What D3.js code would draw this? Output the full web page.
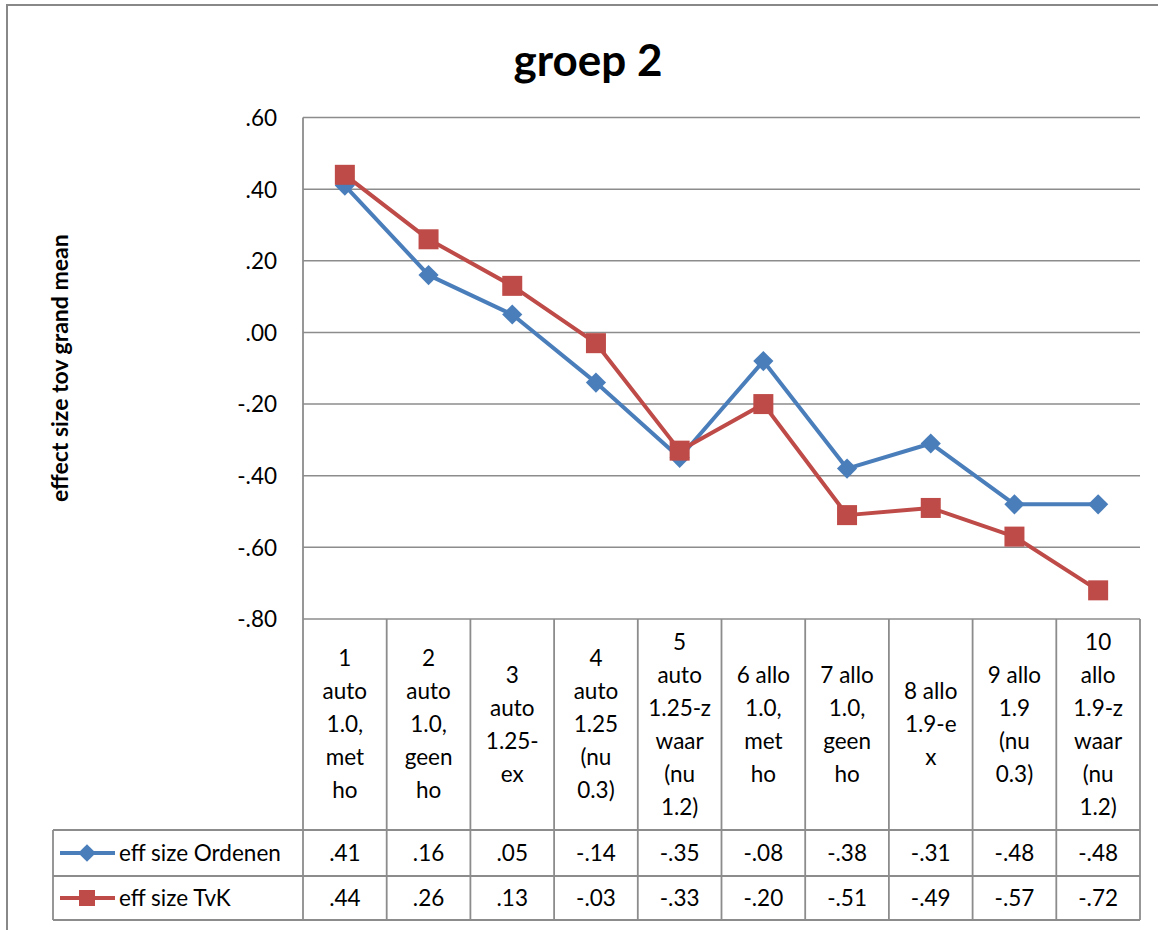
<!DOCTYPE html>
<html><head><meta charset="utf-8">
<script src="https://cdn.jsdelivr.net/npm/d3@7"></script>
<style>body{margin:0;background:#fff}svg{display:block}text{font-family:Lato,"Open Sans",sans-serif}</style>
</head><body><svg id="c" width="1158" height="930"></svg>
<script>
const title = "groep 2";
const yTitle = "effect size tov grand mean";
const categories = [
  ["1","auto","1.0,","met","ho"],
  ["2","auto","1.0,","geen","ho"],
  ["3","auto","1.25-","ex"],
  ["4","auto","1.25","(nu","0.3)"],
  ["5","auto","1.25-z","waar","(nu","1.2)"],
  ["6 allo","1.0,","met","ho"],
  ["7 allo","1.0,","geen","ho"],
  ["8 allo","1.9-e","x"],
  ["9 allo","1.9","(nu","0.3)"],
  ["10","allo","1.9-z","waar","(nu","1.2)"]
];
const seriesNames = ["eff size Ordenen","eff size TvK"];
const ordenen = [0.41,0.16,0.05,-0.14,-0.35,-0.08,-0.38,-0.31,-0.48,-0.48];
const tvk = [0.44,0.26,0.13,-0.03,-0.33,-0.20,-0.51,-0.49,-0.57,-0.72];
const yTicks = [0.6,0.4,0.2,0,-0.2,-0.4,-0.6,-0.8];
const colors = ["#4a7ebb","#be4b48"];
const series = [ordenen, tvk];

const svg = d3.select("#c");
const grid = "#8c8c8c";
const FS = 22.5;
const L = 303, R = 1140, T = 117.5, B = 619;
const headB = 830, row1B = 876, row2B = 920, legL = 53;

svg.append("rect").attr("x",7).attr("y",5).attr("width",1170).attr("height",940)
  .attr("fill","#fff").attr("stroke","#888").attr("stroke-width",2);

svg.append("text").attr("x",588).attr("y",76).attr("text-anchor","middle")
  .attr("font-size",44).attr("font-weight","bold").text(title);

const x = d3.scaleBand().domain(d3.range(categories.length)).range([L,R]);
const y = d3.scaleLinear().domain([-0.8,0.6]).range([B,T]);
const fmt = d => d3.format(".2f")(d).replace("\u2212","-").replace("0.",".");

// gridlines
svg.append("g").selectAll("line").data(yTicks).join("line")
  .attr("x1",L).attr("x2",R).attr("y1",d=>y(d)).attr("y2",d=>y(d))
  .attr("stroke",grid).attr("stroke-width",1.5);

const ax = svg.append("g").attr("transform",`translate(${L},0)`)
  .call(d3.axisLeft(y).tickValues(yTicks).tickFormat(fmt).tickSize(0).tickPadding(26));
ax.select(".domain").remove();
ax.selectAll("text").attr("font-size",FS).attr("fill","#000").style("font-family","Lato,'Open Sans',sans-serif").attr("dy","0.35em");

svg.append("text").attr("transform",`translate(68,${(T+B)/2}) rotate(-90)`)
  .attr("text-anchor","middle").attr("font-size",23).attr("font-weight","bold").text(yTitle);

// table lines
const tl = svg.append("g").attr("stroke",grid).attr("stroke-width",1.8);
tl.append("line").attr("x1",L).attr("x2",L).attr("y1",T).attr("y2",row2B);
x.domain().forEach(i=>{
  tl.append("line").attr("x1",x(i)+x.bandwidth()).attr("x2",x(i)+x.bandwidth()).attr("y1",B).attr("y2",row2B);
});
[headB,row1B,row2B].forEach(yy=>tl.append("line").attr("x1",legL).attr("x2",R).attr("y1",yy).attr("y2",yy));
tl.append("line").attr("x1",legL).attr("x2",legL).attr("y1",headB).attr("y2",row2B);

// header labels
const lh = 33;
categories.forEach((lines,i)=>{
  const cy = (B+headB)/2;
  const y0 = cy - (lines.length-1)*lh/2;
  const t = svg.append("text").attr("text-anchor","middle").attr("font-size",FS);
  lines.forEach((s,j)=>t.append("tspan").attr("x",x(i)+x.bandwidth()/2).attr("y",y0+j*lh).attr("dy","0.35em").text(s));
});

// values rows
const rowMid = [(headB+row1B)/2,(row1B+row2B)/2];
series.forEach((vals,k)=>{
  svg.append("g").selectAll("text").data(vals).join("text")
    .attr("x",(d,i)=>x(i)+x.bandwidth()/2).attr("y",rowMid[k]).attr("dy","0.35em")
    .attr("text-anchor","middle").attr("font-size",FS).text(d=>fmt(d));
  svg.append("text").attr("x",119).attr("y",rowMid[k]).attr("dy","0.35em").attr("font-size",FS).text(seriesNames[k]);
  svg.append("line").attr("x1",60).attr("x2",115).attr("y1",rowMid[k]).attr("y2",rowMid[k])
    .attr("stroke",colors[k]).attr("stroke-width",4);
});
// legend markers
svg.append("path").attr("d",d3.symbol(d3.symbolDiamond2,200)()).attr("transform",`translate(87,${rowMid[0]})`).attr("fill",colors[0]);
svg.append("rect").attr("x",87-8).attr("y",rowMid[1]-8).attr("width",16).attr("height",16).attr("fill",colors[1]);

// lines
const line = d3.line().x((d,i)=>x(i)+x.bandwidth()/2).y(d=>y(d));
series.forEach((vals,k)=>{
  svg.append("path").datum(vals).attr("d",line).attr("fill","none").attr("stroke",colors[k]).attr("stroke-width",4).attr("stroke-linejoin","round");
});
svg.append("g").selectAll("path").data(ordenen).join("path")
  .attr("d",d3.symbol(d3.symbolDiamond2,260)())
  .attr("transform",(d,i)=>`translate(${x(i)+x.bandwidth()/2},${y(d)})`).attr("fill",colors[0]);
svg.append("g").selectAll("rect").data(tvk).join("rect")
  .attr("x",(d,i)=>x(i)+x.bandwidth()/2-10).attr("y",d=>y(d)-10).attr("width",20).attr("height",20).attr("fill",colors[1]);
</script></body></html>
